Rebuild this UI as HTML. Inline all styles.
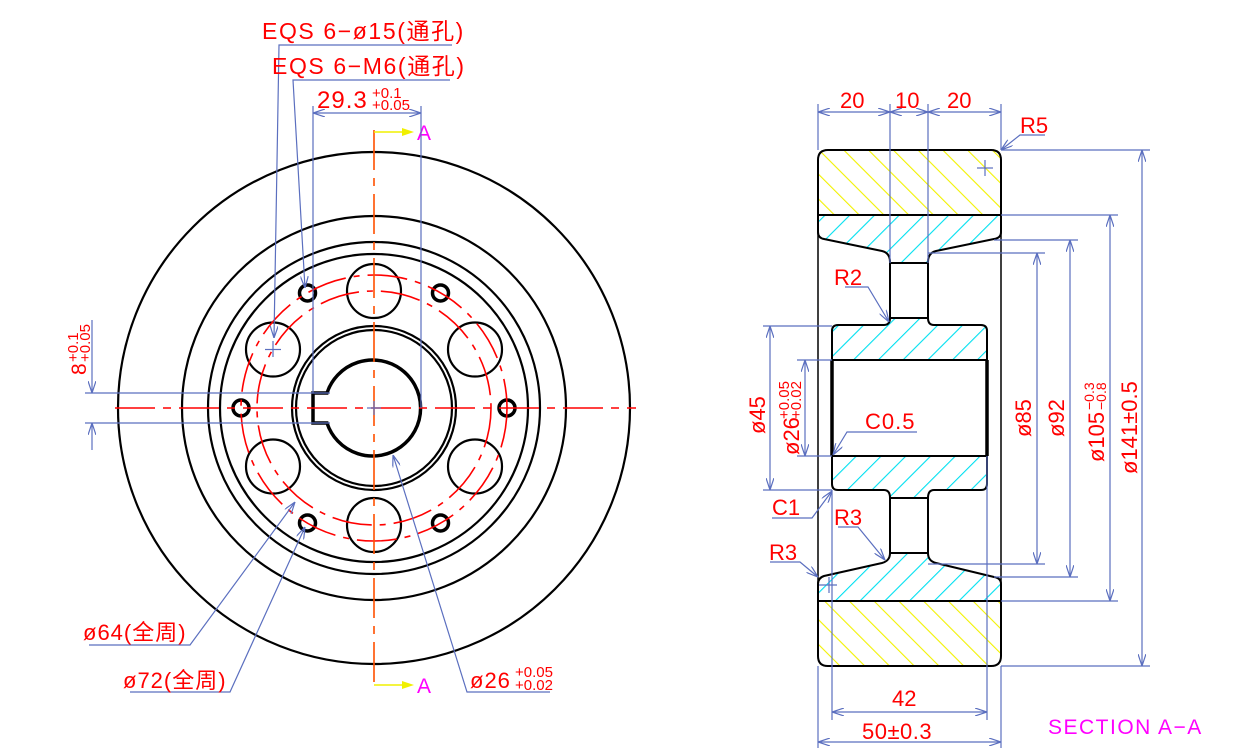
<!DOCTYPE html>
<html><head><meta charset="utf-8"><style>
html,body{margin:0;padding:0;background:#fff;}
svg{display:block;}
text{font-family:"Liberation Sans","Noto Sans CJK SC",sans-serif;fill:#ff0000;}
</style></head><body>
<svg width="1233" height="751" viewBox="0 0 1233 751" xmlns="http://www.w3.org/2000/svg">
<defs>
<pattern id="yh" patternUnits="userSpaceOnUse" width="17.5" height="17.5" patternTransform="rotate(-45)">
<line x1="0" y1="0" x2="0" y2="17.5" stroke="#f2f200" stroke-width="2.2"/></pattern>
<pattern id="ch" patternUnits="userSpaceOnUse" width="17.5" height="17.5" patternTransform="rotate(45)">
<line x1="0" y1="0" x2="0" y2="17.5" stroke="#00e0f0" stroke-width="2.2"/></pattern>
<marker id="ar" viewBox="0 0 12 8" refX="12" refY="4" markerWidth="12" markerHeight="8" orient="auto-start-reverse" markerUnits="userSpaceOnUse">
<path d="M0,0 L12,4 L0,8" fill="none" stroke="#5b6fbf" stroke-width="1.2"/></marker>
</defs>

<g fill="none" stroke="#000" stroke-width="2.2">
<circle cx="374" cy="408" r="256"/>
<circle cx="374" cy="408" r="192"/>
<circle cx="374" cy="408" r="166"/>
<circle cx="374" cy="408" r="154"/>
<circle cx="374" cy="408" r="82"/>
<circle cx="374" cy="408" r="78"/>
<circle cx="374" cy="291" r="27"/>
<circle cx="475" cy="349.5" r="27"/>
<circle cx="475" cy="466.5" r="27"/>
<circle cx="374" cy="525" r="27"/>
<circle cx="273" cy="466.5" r="27"/>
<circle cx="273" cy="349.5" r="27"/>
</g>
<g fill="none" stroke="#000" stroke-width="3.5">
<circle cx="507" cy="408" r="8"/><circle cx="440.5" cy="293" r="8"/><circle cx="307.5" cy="293" r="8"/>
<circle cx="241" cy="408" r="8"/><circle cx="307.5" cy="523" r="8"/><circle cx="440.5" cy="523" r="8"/>
<path d="M327,393 A48,48 0 1 1 327,423 L313,423 L313,393 Z"/>
</g>
<g fill="none" stroke="#ff0000" stroke-width="1.6">
<circle cx="374" cy="408" r="133" stroke-dasharray="40,8,6,8"/>
<circle cx="374" cy="408" r="117" stroke-dasharray="40,8,6,8"/>
<line x1="115" y1="408" x2="636" y2="408" stroke-dasharray="40,8,8,8"/>
<line x1="374" y1="130" x2="374" y2="688" stroke="#ff5000" stroke-dasharray="40,8,8,8"/>
</g>
<polyline points="374,132 402,132" stroke="#f0f000" stroke-width="1.5" fill="none"/>
<polygon points="402,128 414,132 402,136" fill="#f0f000"/>
<polyline points="374,685 402,685" stroke="#f0f000" stroke-width="1.5" fill="none"/>
<polygon points="402,681 414,685 402,689" fill="#f0f000"/>
<text x="417" y="140" font-size="21" style="fill:#ff00ff">A</text>
<text x="417" y="693" font-size="21" style="fill:#ff00ff">A</text>

<g fill="none" stroke="#5b6fbf" stroke-width="1.2">
<line x1="374" y1="401" x2="374" y2="415"/><line x1="367" y1="408" x2="381" y2="408"/>
<line x1="265" y1="349.5" x2="281" y2="349.5"/><line x1="273" y1="341" x2="273" y2="357"/>
<polyline points="452,45 279,45 274,338" marker-end="url(#ar)"/>
<polyline points="450,80 293,80 305,288" marker-end="url(#ar)"/>
<line x1="313" y1="113" x2="421" y2="113" marker-start="url(#ar)" marker-end="url(#ar)"/>
<line x1="313" y1="106" x2="313" y2="393"/>
<line x1="421" y1="106" x2="421" y2="408"/>
<line x1="85" y1="393" x2="330" y2="393"/>
<line x1="85" y1="423" x2="330" y2="423"/>
<line x1="92" y1="320" x2="92" y2="393" marker-end="url(#ar)"/>
<line x1="92" y1="450" x2="92" y2="423" marker-end="url(#ar)"/>
<polyline points="89,645 190,645 295,502" marker-end="url(#ar)"/>
<polyline points="130,692 230,692 305,527" marker-end="url(#ar)"/>
<polyline points="550,692 467,692 393,455" marker-end="url(#ar)"/>
</g>
<text x="262" y="39" font-size="23" letter-spacing="1.6">EQS 6−ø15(通孔)</text>
<text x="272" y="74" font-size="23" letter-spacing="1.6">EQS 6−M6(通孔)</text>
<text x="317" y="108" font-size="24" letter-spacing="1">29.3</text>
<text x="372" y="98" font-size="15">+0.1</text>
<text x="372" y="110" font-size="15">+0.05</text>
<g transform="translate(86,375) rotate(-90)"><text x="0" y="0" font-size="21">8</text>
<text x="13" y="-8" font-size="15">+0.1</text><text x="13" y="4" font-size="15">+0.05</text></g>
<text x="83" y="640" font-size="22" letter-spacing="1">ø64(全周)</text>
<text x="123" y="688" font-size="22" letter-spacing="1">ø72(全周)</text>
<text x="470" y="688" font-size="22" letter-spacing="1">ø26</text>
<text x="515" y="677" font-size="15">+0.05</text>
<text x="515" y="690" font-size="15">+0.02</text>

<g stroke="#000" stroke-width="2">
<path d="M818,215 V160 Q818,150 828,150 H991 Q1001,150 1001,160 V215 Z" fill="url(#yh)"/>
<path d="M818,601 H1001 V656 Q1001,666 991,666 H828 Q818,666 818,656 Z" fill="url(#yh)"/>
<path d="M818,215 H1001 V232 Q1001,238 994,239 L936,251 Q928,253 928,262 V263 H890 V262 Q890,253 882,251 L824,239 Q818,238 818,232 Z" fill="url(#ch)"/>
<path d="M890,318 Q890,325 884,325 H838 Q832,325 832,331 V360 H987 V331 Q987,325 981,325 H934 Q928,325 928,318 Z" fill="url(#ch)"/>
<path d="M832,456 H987 V484 Q987,490 981,490 H934 Q928,490 928,498 H890 Q890,490 884,490 H838 Q832,490 832,484 Z" fill="url(#ch)"/>
<path d="M890,553 Q890,561 882,563 L824,576 Q818,578 818,584 V601 H1001 V584 Q1001,578 994,577 L936,563 Q928,561 928,553 Z" fill="url(#ch)"/>
<rect x="890" y="263" width="38" height="55" fill="none"/>
<rect x="890" y="498" width="38" height="55" fill="none"/>
<line x1="832" y1="360" x2="832" y2="456" stroke-width="3.5"/>
<line x1="987" y1="360" x2="987" y2="456" stroke-width="3.5"/>
<line x1="818" y1="232" x2="818" y2="584" stroke-width="1.5"/>
<line x1="1001" y1="232" x2="1001" y2="584" stroke-width="1.5"/>
</g>
<g fill="none" stroke="#5b6fbf" stroke-width="1.2">
<line x1="977" y1="168" x2="993" y2="168"/><line x1="985" y1="160" x2="985" y2="176"/>
<line x1="819" y1="585" x2="837" y2="585"/><line x1="829" y1="577" x2="829" y2="593"/>
<line x1="818" y1="104" x2="818" y2="150"/><line x1="890" y1="104" x2="890" y2="263"/>
<line x1="928" y1="104" x2="928" y2="263"/><line x1="1001" y1="104" x2="1001" y2="150"/>
<line x1="818" y1="112" x2="890" y2="112" marker-start="url(#ar)" marker-end="url(#ar)"/>
<line x1="890" y1="112" x2="928" y2="112" marker-start="url(#ar)" marker-end="url(#ar)"/>
<line x1="928" y1="112" x2="1001" y2="112" marker-start="url(#ar)" marker-end="url(#ar)"/>
<line x1="832" y1="490" x2="832" y2="720"/><line x1="987" y1="456" x2="987" y2="720"/>
<line x1="818" y1="666" x2="818" y2="748"/><line x1="1001" y1="666" x2="1001" y2="748"/>
<line x1="832" y1="712" x2="987" y2="712" marker-start="url(#ar)" marker-end="url(#ar)"/>
<line x1="818" y1="742" x2="1001" y2="742" marker-start="url(#ar)" marker-end="url(#ar)"/>
<line x1="1001" y1="150" x2="1150" y2="150"/><line x1="1001" y1="666" x2="1150" y2="666"/>
<line x1="1142" y1="150" x2="1142" y2="666" marker-start="url(#ar)" marker-end="url(#ar)"/>
<line x1="1001" y1="215" x2="1118" y2="215"/><line x1="1001" y1="601" x2="1118" y2="601"/>
<line x1="1110" y1="215" x2="1110" y2="601" marker-start="url(#ar)" marker-end="url(#ar)"/>
<line x1="994" y1="240" x2="1078" y2="240"/><line x1="994" y1="577" x2="1078" y2="577"/>
<line x1="1070" y1="240" x2="1070" y2="577" marker-start="url(#ar)" marker-end="url(#ar)"/>
<line x1="928" y1="253" x2="1045" y2="253"/><line x1="928" y1="564" x2="1045" y2="564"/>
<line x1="1037" y1="253" x2="1037" y2="564" marker-start="url(#ar)" marker-end="url(#ar)"/>
<line x1="763" y1="326" x2="832" y2="326"/><line x1="763" y1="490" x2="832" y2="490"/>
<line x1="770" y1="326" x2="770" y2="490" marker-start="url(#ar)" marker-end="url(#ar)"/>
<line x1="797" y1="360" x2="832" y2="360"/><line x1="797" y1="456" x2="832" y2="456"/>
<line x1="805" y1="360" x2="805" y2="456" marker-start="url(#ar)" marker-end="url(#ar)"/>
<polyline points="1045,135 1020,135 1001,150" marker-end="url(#ar)"/>
<polyline points="845,287 868,287 889,322" marker-end="url(#ar)"/>
<polyline points="917,432 847,432 833,455" marker-end="url(#ar)"/>
<polyline points="772,518 812,518 832,491" marker-end="url(#ar)"/>
<polyline points="838,527 858,527 885,560" marker-end="url(#ar)"/>
<polyline points="770,562 800,562 818,577" marker-end="url(#ar)"/>
</g>
<text x="840" y="108" font-size="22">20</text>
<text x="895" y="108" font-size="22">10</text>
<text x="947" y="108" font-size="22">20</text>
<text x="1020" y="133" font-size="22">R5</text>
<text x="834" y="285" font-size="22">R2</text>
<text x="865" y="429" font-size="22" letter-spacing="1">C0.5</text>
<text x="772" y="515" font-size="22">C1</text>
<text x="834" y="525" font-size="22">R3</text>
<text x="769" y="560" font-size="22">R3</text>
<text x="892" y="706" font-size="22">42</text>
<text x="862" y="739" font-size="22" letter-spacing="0.5">50±0.3</text>
<text x="1048" y="734" font-size="21" letter-spacing="1.5" style="fill:#ff00ff">SECTION A−A</text>
<g transform="translate(1031,437) rotate(-90)"><text x="0" y="0" font-size="22">ø85</text></g>
<g transform="translate(1064,437) rotate(-90)"><text x="0" y="0" font-size="22">ø92</text></g>
<g transform="translate(1104,462) rotate(-90)"><text x="0" y="0" font-size="22">ø105</text>
<text x="52" y="-10" font-size="14">−0.3</text><text x="52" y="2" font-size="14">−0.8</text></g>
<g transform="translate(1137,474) rotate(-90)"><text x="0" y="0" font-size="22">ø141±0.5</text></g>
<g transform="translate(765,434) rotate(-90)"><text x="0" y="0" font-size="22">ø45</text></g>
<g transform="translate(799,455) rotate(-90)"><text x="0" y="0" font-size="22">ø26</text>
<text x="36" y="-10" font-size="15">+0.05</text><text x="36" y="2" font-size="15">+0.02</text></g>
</svg>
</body></html>
